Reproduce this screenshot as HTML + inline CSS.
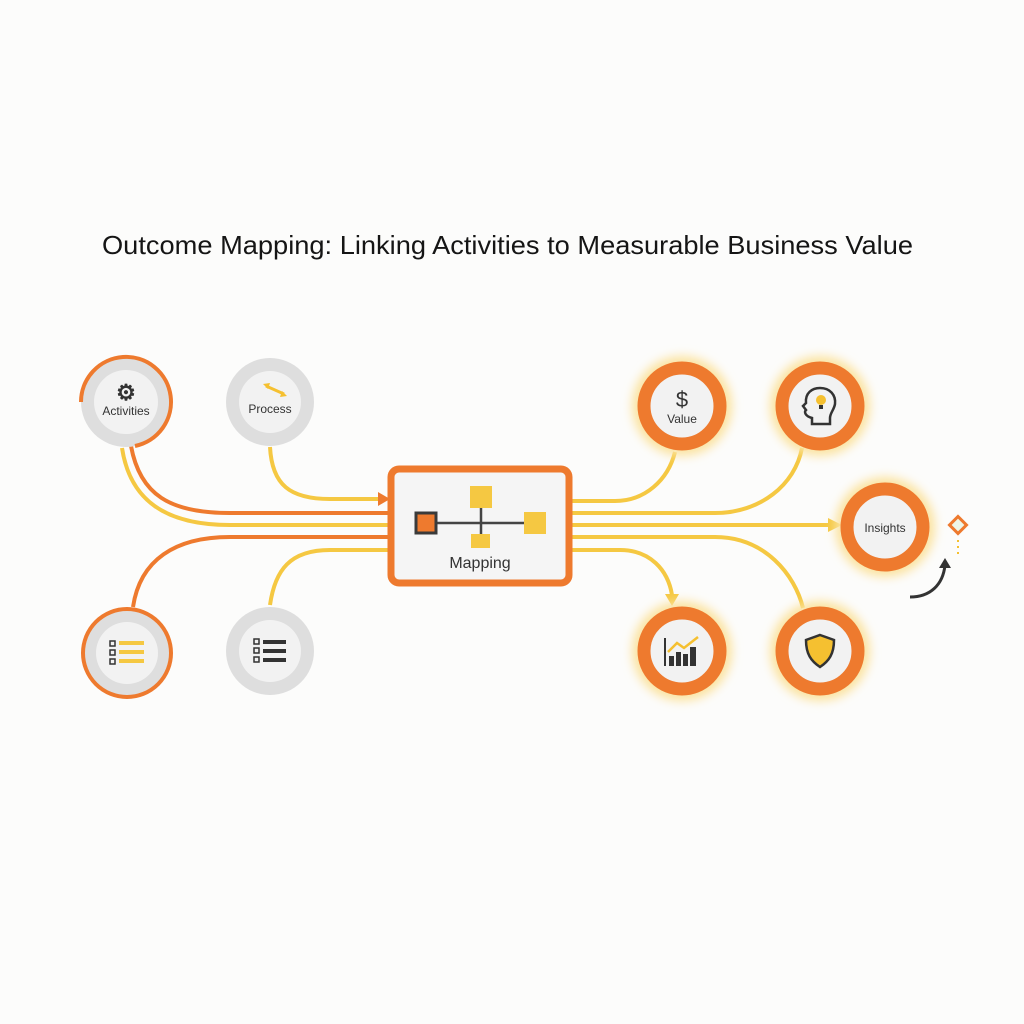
<!DOCTYPE html>
<html><head><meta charset="utf-8"><style>
html,body{margin:0;padding:0;background:#fcfcfb;}
svg{display:block;font-family:"Liberation Sans",sans-serif;}
</style></head><body>
<svg width="1024" height="1024" viewBox="0 0 1024 1024">
<defs>
<filter id="glow" x="-50%" y="-50%" width="200%" height="200%"><feGaussianBlur stdDeviation="5"/></filter>
</defs>
<rect width="1024" height="1024" fill="#fcfcfb"/>
<text x="102" y="254" font-size="26" fill="#151515" textLength="811" lengthAdjust="spacingAndGlyphs">Outcome Mapping: Linking Activities to Measurable Business Value</text>

<!-- left connectors -->
<g fill="none" stroke-width="4">
<path d="M131 446 C140 495 170 513 230 513 L390 513" stroke="#ee7a2e"/>
<path d="M122 448 C130 500 165 525 230 525 L390 525" stroke="#f5c842"/>
<path d="M133 607 C140 560 175 537 230 537 L390 537" stroke="#ee7a2e"/>
<path d="M270 605 C275 570 290 550 330 550 L390 550" stroke="#f5c842"/>
<path d="M270 447 C272 485 290 499 330 499 L380 499" stroke="#f5c842"/>
</g>
<polygon points="378,492 390,499 378,506" fill="#ee7a2e"/>

<!-- right connectors -->
<g fill="none" stroke-width="4" stroke="#f5c842">
<path d="M572 501 L615 501 C645 501 668 480 675 452"/>
<path d="M572 513 L715 513 C760 513 795 485 802 448"/>
<path d="M572 525 L830 525"/>
<path d="M572 537 L715 537 C765 537 795 575 803 608"/>
<path d="M572 550 L620 550 C650 550 668 570 672 595"/>
</g>
<polygon points="828,518 842,525 828,532" fill="#f5c842"/>
<polygon points="665,594 679,594 672,606" fill="#f5c842"/>

<!-- left circles -->
<circle cx="126" cy="402" r="45" fill="#dedede"/>
<path d="M81 402 A45 45 0 1 1 135 446" fill="none" stroke="#ee7a2e" stroke-width="4"/>
<circle cx="126" cy="402" r="32" fill="#f2f2f2"/>
<text x="126" y="400" text-anchor="middle" font-size="22" font-weight="bold" fill="#333">⚙</text>
<text x="126" y="415" text-anchor="middle" font-size="12" fill="#333">Activities</text>

<circle cx="270" cy="402" r="44" fill="#dedede"/>
<circle cx="270" cy="402" r="31" fill="#f2f2f2"/>
<path d="M266 386 L284 394" stroke="#f5c030" stroke-width="3"/>
<polygon points="263,384 270,383 268,389" fill="#f5c030"/>
<polygon points="287,396 280,397 282,391" fill="#f5c030"/>
<text x="270" y="413" text-anchor="middle" font-size="12" fill="#333">Process</text>

<circle cx="127" cy="653" r="44" fill="#dedede" stroke="#ee7a2e" stroke-width="4"/>
<circle cx="127" cy="653" r="31" fill="#f2f2f2"/>
<g fill="none" stroke="#333" stroke-width="1.5"><rect x="110" y="641" width="5" height="5"/><rect x="110" y="650" width="5" height="5"/><rect x="110" y="659" width="5" height="5"/></g>
<g fill="#f5c842"><rect x="119" y="641" width="25" height="4"/><rect x="119" y="650" width="25" height="4"/><rect x="119" y="659" width="25" height="4"/></g>

<circle cx="270" cy="651" r="44" fill="#dedede"/>
<circle cx="270" cy="651" r="31" fill="#f2f2f2"/>
<g fill="none" stroke="#333" stroke-width="1.5"><rect x="254" y="639" width="5" height="5"/><rect x="254" y="648" width="5" height="5"/><rect x="254" y="657" width="5" height="5"/></g>
<g fill="#333"><rect x="263" y="640" width="23" height="4"/><rect x="263" y="649" width="23" height="4"/><rect x="263" y="658" width="23" height="4"/></g>

<!-- mapping box -->
<rect x="391" y="469" width="178" height="114" rx="8" fill="#f5f5f5" stroke="#ee7a2e" stroke-width="7"/>
<path d="M435 523 L535 523 M481 497 L481 541" stroke="#444" stroke-width="2.5"/>
<rect x="470" y="486" width="22" height="22" fill="#f5c842"/>
<rect x="524" y="512" width="22" height="22" fill="#f5c842"/>
<rect x="471" y="534" width="19" height="14" fill="#f5c842"/>
<rect x="416" y="513" width="20" height="20" fill="#ee7a2e" stroke="#3a3a3a" stroke-width="3"/>
<text x="480" y="568" text-anchor="middle" font-size="16" fill="#333">Mapping</text>

<!-- right circles -->
<g>
<circle cx="682" cy="406" r="50" fill="#fbe3a0" filter="url(#glow)"/>
<circle cx="820" cy="406" r="50" fill="#fbe3a0" filter="url(#glow)"/>
<circle cx="885" cy="527" r="50" fill="#fbe3a0" filter="url(#glow)"/>
<circle cx="682" cy="651" r="50" fill="#fbe3a0" filter="url(#glow)"/>
<circle cx="820" cy="651" r="50" fill="#fbe3a0" filter="url(#glow)"/>
</g>
<g fill="#f2f2f2" stroke="#ee7a2e" stroke-width="13">
<circle cx="682" cy="406" r="38"/>
<circle cx="820" cy="406" r="38"/>
<circle cx="885" cy="527" r="38"/>
<circle cx="682" cy="651" r="38"/>
<circle cx="820" cy="651" r="38"/>
</g>
<text x="682" y="407" text-anchor="middle" font-size="22" fill="#333">$</text>
<text x="682" y="423" text-anchor="middle" font-size="12" fill="#333">Value</text>
<text x="885" y="532" text-anchor="middle" font-size="12" fill="#333">Insights</text>
<!-- head -->
<path d="M812 424 L812 418 C805 416 804 412 806 410 L803 406 L806 403 C805 393 812 388 820 388 C830 388 836 395 835 404 C834 410 830 413 830 418 L830 424 Z" fill="none" stroke="#333" stroke-width="2.5"/>
<circle cx="821" cy="400" r="5" fill="#f5c030"/>
<rect x="819" y="405" width="4" height="4" fill="#333"/>
<!-- chart -->
<g fill="#333"><rect x="664" y="638" width="2" height="28"/><rect x="669" y="656" width="5" height="10"/><rect x="676" y="652" width="5" height="14"/><rect x="683" y="654" width="5" height="12"/><rect x="690" y="647" width="6" height="19"/></g>
<path d="M668 652 L677 643 L684 648 L698 637" fill="none" stroke="#f5c030" stroke-width="2.5"/>
<!-- shield -->
<path d="M820 635 L834 640 C834 654 829 661 820 667 C811 661 806 654 806 640 Z" fill="#f5c030" stroke="#333" stroke-width="2.5"/>

<!-- diamond & arrow -->
<rect x="952" y="519" width="12" height="12" transform="rotate(45 958 525)" fill="#eef6e8" stroke="#ee7a2e" stroke-width="3"/>
<path d="M958 540 L958 556" stroke="#f5c030" stroke-width="2" stroke-dasharray="2 4"/>
<path d="M910 597 C930 597 943 585 945 565" fill="none" stroke="#333" stroke-width="3"/>
<polygon points="939,568 951,568 945,558" fill="#333"/>
</svg>
</body></html>
